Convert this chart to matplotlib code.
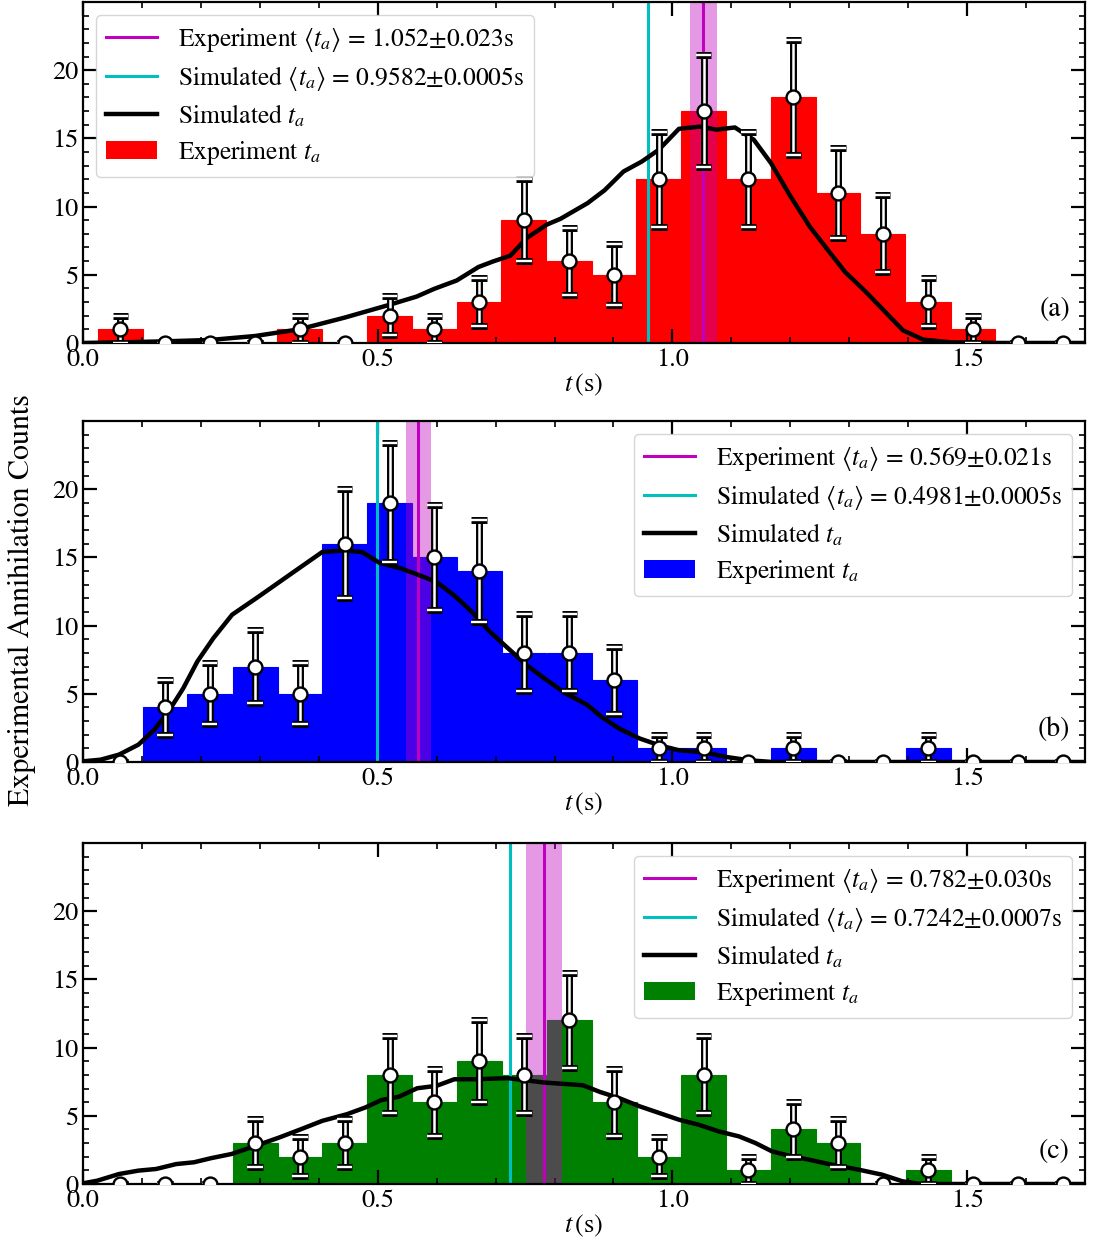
import numpy as np
import matplotlib.pyplot as plt
import matplotlib.patheffects as pe
from matplotlib.patches import Patch
from matplotlib.lines import Line2D
from matplotlib.ticker import MultipleLocator

plt.rcParams.update({
    'font.family': 'serif',
    'font.serif': ['STIXGeneral', 'Liberation Serif', 'DejaVu Serif'],
    'mathtext.fontset': 'stix',
    'font.size': 19,
    'axes.linewidth': 1.6,
    'xtick.direction': 'in', 'ytick.direction': 'in',
    'xtick.top': True, 'ytick.right': True,
    'xtick.major.size': 10, 'ytick.major.size': 10,
    'xtick.minor.size': 4.5, 'ytick.minor.size': 4.5,
    'xtick.major.width': 1.6, 'ytick.major.width': 1.6,
    'xtick.minor.width': 1.2, 'ytick.minor.width': 1.2,
    'xtick.minor.visible': True, 'ytick.minor.visible': True,
})

# histogram bins (s)
bin_centers = [0.063, 0.139, 0.215, 0.292, 0.368, 0.444, 0.520, 0.596, 0.672, 0.748, 0.825,
               0.901, 0.977, 1.053, 1.129, 1.205, 1.281, 1.357, 1.434, 1.510, 1.586, 1.662]
bin_width = 0.0761

# experimental counts per bin
counts_a = [1, 0, 0, 0, 1, 0, 2, 1, 3, 9, 6, 5, 12, 17, 12, 18, 11, 8, 3, 1, 0, 0]
counts_b = [0, 4, 5, 7, 5, 16, 19, 15, 14, 8, 8, 6, 1, 1, 0, 1, 0, 0, 1, 0, 0, 0]
counts_c = [0, 0, 0, 3, 2, 3, 8, 6, 9, 8, 12, 6, 2, 8, 1, 4, 3, 0, 1, 0, 0, 0]

# simulated distributions, scaled to the experiment
sim_t_a = [0.0, 0.07, 0.14, 0.216, 0.292, 0.367, 0.444, 0.52, 0.566, 0.596, 0.634, 0.671,
           0.696, 0.725, 0.753, 0.787, 0.81, 0.856, 0.885, 0.917, 0.948, 0.977, 1.011, 1.046,
           1.075, 1.106, 1.138, 1.167, 1.201, 1.233, 1.264, 1.293, 1.328, 1.356, 1.391, 1.425,
           1.471, 1.55, 1.7]
sim_y_a = [0.0, 0.05, 0.12, 0.22, 0.51, 1.0, 1.86, 2.8, 3.4, 3.97, 4.58, 5.57,
           5.98, 6.4, 7.7, 8.68, 9.1, 10.25, 11.2, 12.57, 13.3, 14.17, 15.7, 15.86,
           15.64, 15.8, 14.9, 13.2, 10.7, 8.53, 6.8, 5.2, 3.75, 2.5, 0.93, 0.25,
           0.05, 0.0, 0.0]

sim_t_b = [0.0, 0.03, 0.061, 0.094, 0.121, 0.145, 0.17, 0.194, 0.221, 0.253, 0.297, 0.358,
           0.406, 0.442, 0.473, 0.503, 0.539, 0.57, 0.60, 0.63, 0.66, 0.69, 0.721, 0.752,
           0.782, 0.818, 0.855, 0.88, 0.91, 0.944, 0.978, 1.012, 1.051, 1.091, 1.131, 1.17,
           1.7]
sim_y_b = [0.05, 0.17, 0.54, 1.27, 2.37, 3.7, 5.4, 7.37, 9.07, 10.8, 12.1, 13.95,
           15.4, 15.5, 15.4, 14.6, 14.2, 13.7, 13.2, 12.2, 11.0, 9.56, 8.34, 7.12,
           6.15, 5.05, 4.2, 3.3, 2.44, 1.73, 1.22, 0.85, 0.73, 0.37, 0.12, 0.0,
           0.0]

sim_t_c = [0.0, 0.024, 0.061, 0.094, 0.124, 0.158, 0.188, 0.218, 0.252, 0.285, 0.333, 0.37,
           0.406, 0.448, 0.479, 0.506, 0.536, 0.567, 0.60, 0.63, 0.667, 0.721, 0.782, 0.848,
           0.877, 0.91, 0.944, 0.978, 1.012, 1.045, 1.079, 1.113, 1.141, 1.169, 1.203, 1.232,
           1.271, 1.316, 1.356, 1.39, 1.418, 1.45, 1.7]
sim_y_c = [0.05, 0.24, 0.73, 0.98, 1.1, 1.46, 1.59, 1.9, 2.2, 2.68, 3.41, 4.02,
           4.63, 5.12, 5.61, 6.15, 6.4, 7.02, 7.2, 7.68, 7.68, 7.76, 7.44, 7.24,
           6.75, 6.29, 5.7, 5.2, 4.7, 4.34, 3.85, 3.49, 3.0, 2.39, 2.02, 1.78,
           1.41, 1.05, 0.68, 0.2, 0.02, 0.0, 0.0]

# mean annihilation times (s)
exp_mean = [1.052, 0.569, 0.782]
exp_err = [0.023, 0.021, 0.030]
sim_mean = [0.9582, 0.4981, 0.7242]
exp_label = ['1.052', '0.569', '0.782']
exp_err_label = ['0.023', '0.021', '0.030']
sim_label = ['0.9582', '0.4981', '0.7242']
sim_err_label = ['0.0005', '0.0005', '0.0007']

bar_colors = ['red', 'blue', 'green']
panel_tags = ['(a)', '(b)', '(c)']
legend_locs = ['upper left', 'upper right', 'upper right']

fig = plt.figure(figsize=(11.04, 12.39), dpi=100)
bottoms = [0.7232, 0.385, 0.0444]

panels = [(counts_a, sim_t_a, sim_y_a), (counts_b, sim_t_b, sim_y_b), (counts_c, sim_t_c, sim_y_c)]
outline = [pe.Stroke(linewidth=5, foreground='black'), pe.Normal()]

for i, (counts, st, sy) in enumerate(panels):
    ax = fig.add_axes([0.0752, bottoms[i], 0.9076, 0.2752])
    counts = np.array(counts, dtype=float)

    ax.bar(bin_centers, counts, width=bin_width, color=bar_colors[i],
           edgecolor=bar_colors[i], linewidth=0.8, zorder=1)
    ax.axvspan(exp_mean[i] - exp_err[i], exp_mean[i] + exp_err[i],
               color='m', alpha=0.4, lw=0, zorder=2)
    ax.axvline(exp_mean[i], color='m', lw=2.2, zorder=2.5)
    ax.axvline(sim_mean[i], color='c', lw=2.2, zorder=2.5)
    ax.plot(st, sy, color='black', lw=3.2, zorder=3)

    line, caps, bars = ax.errorbar(bin_centers, counts, yerr=np.sqrt(counts), fmt='o',
                                   color='white', ecolor='white', elinewidth=1.8,
                                   capsize=5.5, capthick=2.2, ms=10, mfc='white',
                                   mec='black', mew=1.7, zorder=4)
    for c in caps:
        c.set_path_effects(outline)
    for b in bars:
        b.set_path_effects(outline)

    ax.set_xlim(0, 1.7)
    ax.set_ylim(0, 25)
    ax.xaxis.set_major_locator(MultipleLocator(0.5))
    ax.xaxis.set_minor_locator(MultipleLocator(0.1))
    ax.yaxis.set_major_locator(MultipleLocator(5))
    ax.yaxis.set_minor_locator(MultipleLocator(1))
    ax.set_yticks([0, 5, 10, 15, 20])
    ax.set_xlabel(r'$t\,$(s)', labelpad=0)

    ax.text(0.985, 0.06, panel_tags[i], transform=ax.transAxes,
            ha='right', va='bottom', fontsize=20)

    handles = [Line2D([], [], color='m', lw=2.2),
               Line2D([], [], color='c', lw=2.2),
               Line2D([], [], color='black', lw=3.2),
               Patch(facecolor=bar_colors[i])]
    labels = [r'Experiment $\langle t_a\rangle$ = ' + exp_label[i] + r'$\pm$' + exp_err_label[i] + 's',
              r'Simulated $\langle t_a\rangle$ = ' + sim_label[i] + r'$\pm$' + sim_err_label[i] + 's',
              r'Simulated $t_a$',
              r'Experiment $t_a$']
    ax.legend(handles, labels, loc=legend_locs[i], fontsize=18.4, labelspacing=0.38)

fig.text(0.02, 1 - 600 / 1239, 'Experimental Annihilation Counts',
         rotation=90, ha='center', va='center', fontsize=21.5)

fig.savefig('out.png', dpi=100)
